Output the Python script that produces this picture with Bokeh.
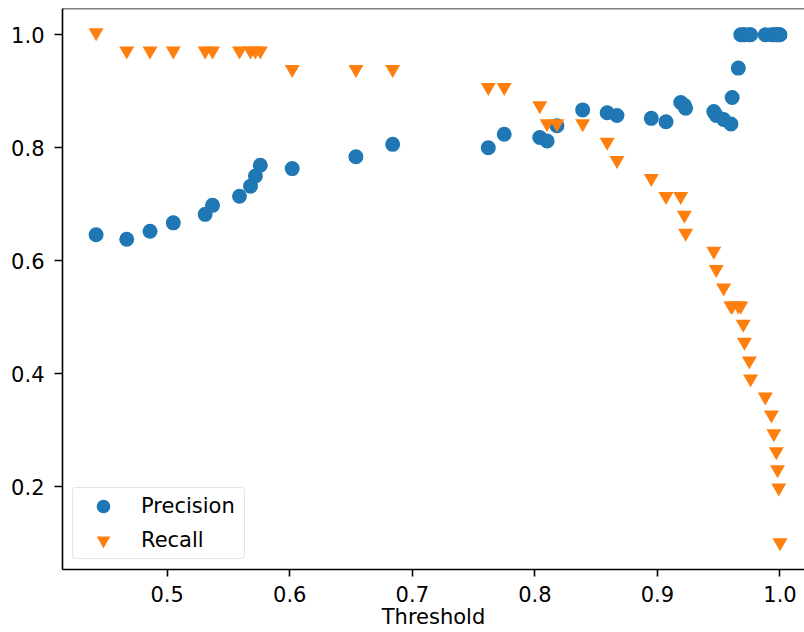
from bokeh.plotting import figure
from bokeh.models import ColumnDataSource, FixedTicker, Span, Legend, LegendItem, Range1d
from bokeh.transform import dodge
from bokeh.embed import file_html
from bokeh.resources import INLINE

threshold = [0.442, 0.467, 0.486, 0.505, 0.531, 0.537, 0.559, 0.568, 0.572, 0.576,
             0.602, 0.654, 0.684, 0.762, 0.775, 0.804, 0.810, 0.818, 0.839, 0.859,
             0.867, 0.895, 0.907, 0.919, 0.922, 0.923, 0.946, 0.948, 0.954, 0.960,
             0.961, 0.966, 0.968, 0.970, 0.971, 0.975, 0.976, 0.988, 0.993, 0.995,
             0.997, 0.998, 0.999, 1.000]
precision = [0.646, 0.638, 0.652, 0.667, 0.682, 0.698, 0.714, 0.732, 0.750, 0.769,
             0.763, 0.784, 0.806, 0.800, 0.824, 0.818, 0.812, 0.839, 0.867, 0.862,
             0.857, 0.852, 0.846, 0.880, 0.875, 0.870, 0.864, 0.857, 0.850, 0.842,
             0.889, 0.941, 1.0, 1.0, 1.0, 1.0, 1.0, 1.0, 1.0, 1.0,
             1.0, 1.0, 1.0, 1.0]
recall = [1.0, 0.968, 0.968, 0.968, 0.968, 0.968, 0.968, 0.968, 0.968, 0.968,
          0.935, 0.935, 0.935, 0.903, 0.903, 0.871, 0.839, 0.839, 0.839, 0.806,
          0.774, 0.742, 0.710, 0.710, 0.677, 0.645, 0.613, 0.581, 0.548, 0.516,
          0.516, 0.516, 0.516, 0.484, 0.452, 0.419, 0.387, 0.355, 0.323, 0.290,
          0.258, 0.226, 0.194, 0.097]

x_ticks = [0.5, 0.6, 0.7, 0.8, 0.9, 1.0]
x_tick_labels = ["0.5", "0.6", "0.7", "0.8", "0.9", "1.0"]
y_ticks = [0.2, 0.4, 0.6, 0.8, 1.0]
y_tick_labels = ["0.2", "0.4", "0.6", "0.8", "1.0"]
x_label = "Threshold"

FONT = "DejaVu Sans"
FS = "21px"

src = ColumnDataSource(dict(t=threshold, p=precision, r=recall))

Y_TOP = 1.0466
p = figure(width=804, height=632, output_backend="svg", toolbar_location=None,
           x_range=Range1d(0.4146, 1.0200), y_range=Range1d(0.0530, Y_TOP),
           min_border_left=62, min_border_right=0, min_border_top=8, min_border_bottom=63)
p.outline_line_color = None
p.xgrid.visible = False
p.ygrid.visible = False

rp = p.scatter("t", "p", source=src, marker="circle", size=15,
               fill_color="#1f77b4", line_color="#1f77b4", line_width=0)
# small upward shift: Bokeh centres triangles on their centroid, matplotlib on the bbox
rr = p.scatter("t", dodge("r", 0.0038, range=p.y_range), source=src,
               marker="inverted_triangle", size=15,
               fill_color="#ff7f0e", line_color="#ff7f0e", line_width=0)

for ax, ticks, labels in ((p.xaxis[0], x_ticks, x_tick_labels), (p.yaxis[0], y_ticks, y_tick_labels)):
    ax.ticker = FixedTicker(ticks=ticks)
    ax.major_label_overrides = {t: l for t, l in zip(ticks, labels)}
    ax.minor_tick_line_color = None
    ax.major_tick_in = 0
    ax.major_tick_out = 8
    ax.major_tick_line_width = 1.6
    ax.axis_line_width = 1.6
    ax.axis_line_color = "black"
    ax.major_tick_line_color = "black"
    ax.major_label_text_font = FONT
    ax.major_label_text_font_size = FS
    ax.major_label_text_color = "black"

p.xaxis.major_tick_out = 7
p.xaxis.major_label_standoff = 9
p.yaxis.major_label_standoff = 10
p.xaxis.axis_label = x_label
p.xaxis.axis_label_text_font = FONT
p.xaxis.axis_label_text_font_size = FS
p.xaxis.axis_label_text_font_style = "normal"
p.xaxis.axis_label_text_color = "black"
p.xaxis.axis_label_standoff = 0

p.add_layout(Span(location=Y_TOP, dimension="width", line_color="black", line_width=1.6))

legend = Legend(items=[LegendItem(label="Precision", renderers=[rp]),
                       LegendItem(label="Recall", renderers=[rr])],
                location="bottom_left", margin=10, padding=1, spacing=0,
                glyph_width=58, glyph_height=34, label_height=34, label_width=102,
                label_standoff=9, label_text_font=FONT, label_text_font_size=FS,
                label_text_color="black", border_line_color="#cccccc",
                border_line_width=1.2, background_fill_alpha=0.8)
try:
    legend.border_radius = 4
except Exception:
    pass
p.add_layout(legend)

open("out.html", "w").write(file_html(p, INLINE))
